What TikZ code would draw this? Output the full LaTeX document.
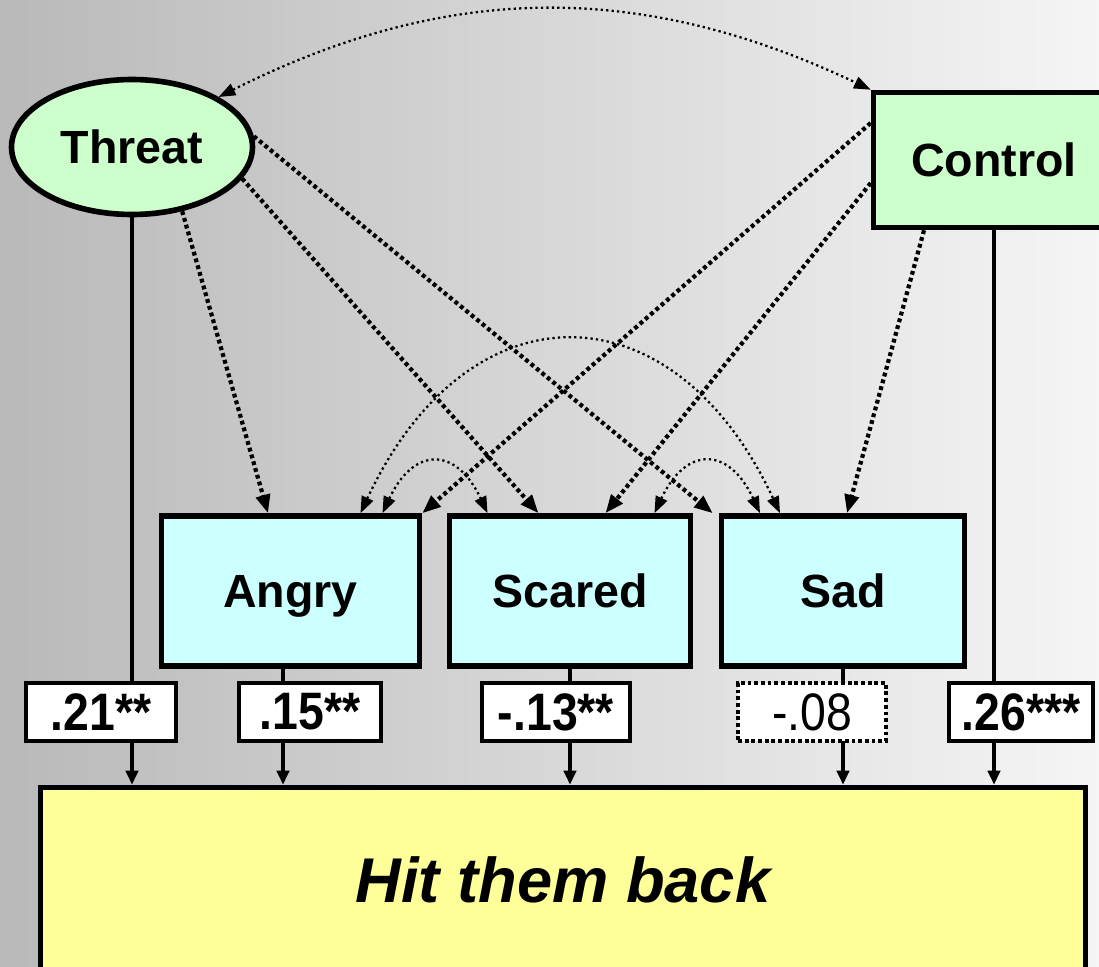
\documentclass[tikz,border=0pt]{standalone}
\usepackage{fontspec}
\usepackage{graphicx}
\setmainfont{Liberation Sans}
\usetikzlibrary{arrows.meta,shapes.geometric}

\definecolor{bgleft}{HTML}{B9B9B9}
\definecolor{bgright}{HTML}{F5F5F5}
\definecolor{latentgreen}{HTML}{CCFFCC}
\definecolor{emocyan}{HTML}{CCFFFF}
\definecolor{outyellow}{HTML}{FFFF99}

\newcommand{\coef}[1]{\scalebox{0.88}[1]{#1}}

\tikzset{
  predictor/.style={draw, line width=3.2pt, fill=latentgreen, inner sep=0pt,
    minimum width=4.82cm, minimum height=2.7cm, text height=19pt, text depth=0pt,
    font=\fontsize{26.5}{30}\selectfont\bfseries},
  emotion/.style={draw, line width=3.2pt, fill=emocyan, inner sep=0pt,
    minimum height=3cm, text height=19pt, text depth=0pt,
    font=\fontsize{26.5}{30}\selectfont\bfseries},
  outcome/.style={draw, line width=3.2pt, fill=outyellow, inner sep=0pt,
    minimum width=20.9cm, minimum height=3.7cm, text height=25.8pt, text depth=0pt,
    font=\fontsize{36}{40}\selectfont\bfseries\itshape},
  weight/.style={draw, line width=2.5pt, fill=white, inner sep=0pt,
    minimum height=1.16cm, font=\fontsize{30}{32}\selectfont\bfseries},
  nsweight/.style={weight, dash pattern=on 2.2pt off 1.6pt,
    font=\fontsize{30}{32}\selectfont},
  direct/.style={line width=2.4pt, -{Triangle[length=8pt,width=7pt]}},
  effect/.style={line width=2.4pt, dash pattern=on 2.2pt off 1.8pt,
    -{Triangle[length=10.5pt,width=8pt]}},
  covar/.style={line width=1.3pt, dash pattern=on 1.3pt off 1.8pt,
    {Triangle[length=9.5pt,width=7pt]}-{Triangle[length=9.5pt,width=7pt]}}
}

\begin{document}
\begin{tikzpicture}[x=0.02cm, y=-0.02cm]
  \useasboundingbox (0,0) rectangle (1099,967);
  \shade[left color=bgleft, right color=bgright] (0,0) rectangle (1099,967);

  % predictors
  \node[predictor, ellipse] (threat) at (132,147) {Threat};
  \node[predictor] (control) at (994,160) {Control};

  % emotions
  \node[emotion, minimum width=5.16cm] (angry) at (290.5,591) {Angry};
  \node[emotion, minimum width=4.82cm] (scared) at (570,591) {Scared};
  \node[emotion, minimum width=4.86cm] (sad) at (843,591) {Sad};

  % outcome
  \node[outcome] (hit) at (563,880) {Hit them back};

  % covariances
  \draw[covar] (threat.30) to[bend left=26] (control.north west);
  \draw[covar] ([xshift=1.4cm]angry.north) to[out=65,in=115,looseness=1.55] ([xshift=-1.26cm]sad.north);
  \draw[covar] ([xshift=1.84cm]angry.north) to[out=65,in=115,looseness=1.8] ([xshift=-1.65cm]scared.north);
  \draw[covar] ([xshift=1.69cm]scared.north) to[out=65,in=115,looseness=1.8] ([xshift=-1.66cm]sad.north);

  % paths to emotions
  \draw[effect] (threat.-52) -- ([xshift=-0.45cm]angry.north);
  \draw[effect] (threat.-16) -- ([xshift=-0.63cm]scared.north);
  \draw[effect] (threat.5) -- ([xshift=-0.12cm]sad.north west);
  \draw[effect] ([yshift=0.74cm]control.west) -- (angry.north east);
  \draw[effect] ([yshift=-0.46cm]control.west) -- ([xshift=0.71cm]scared.north);
  \draw[effect] ([xshift=-1.4cm]control.south) -- ([xshift=0.08cm]sad.north);

  % paths to outcome
  \coordinate (angryout) at ([xshift=-0.15cm]angry.south);
  \draw[direct] (threat.south) -- (threat.south |- hit.north);
  \draw[direct] (angryout) -- (angryout |- hit.north);
  \draw[direct] (scared.south) -- (scared.south |- hit.north);
  \draw[direct] (sad.south) -- (sad.south |- hit.north);
  \draw[direct] (control.south) -- (control.south |- hit.north);

  % coefficients
  \node[weight, minimum width=3cm] (wthreat) at (101,712) {\coef{.21**}};
  \node[weight, minimum width=2.84cm] (wangry) at (310,712) {\coef{.15**}};
  \node[weight, minimum width=2.96cm] (wscared) at (556,712) {\coef{-.13**}};
  \node[nsweight, minimum width=2.96cm] (wsad) at (812,712) {\coef{-.08}};
  \node[weight, minimum width=2.88cm] (wcontrol) at (1021,712) {\coef{.26***}};
\end{tikzpicture}
\end{document}
